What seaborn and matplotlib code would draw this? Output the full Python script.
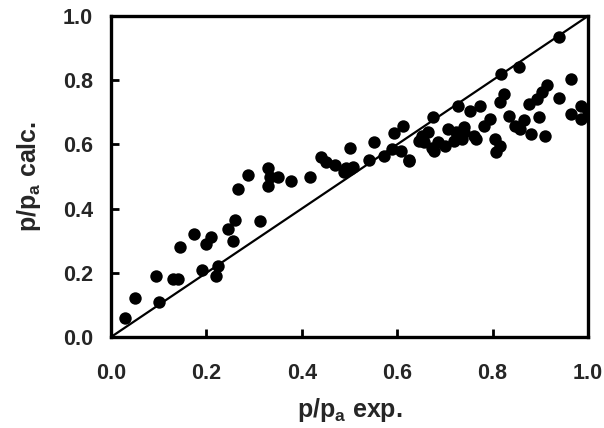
import matplotlib
matplotlib.use("Agg")
import matplotlib.pyplot as plt
import numpy as np
import pandas as pd
import seaborn as sns

# Experimental vs. calculated relative pressure
p_exp = [
    0.03, 0.05, 0.10, 0.095, 0.13, 0.14, 0.145, 0.175, 0.19, 0.20,
    0.21, 0.22, 0.225, 0.245, 0.26, 0.255, 0.267, 0.288, 0.312, 0.33,
    0.333, 0.33, 0.35, 0.378, 0.417, 0.44, 0.45, 0.47, 0.488, 0.50,
    0.50, 0.54, 0.552, 0.573, 0.59, 0.594, 0.608, 0.613, 0.625, 0.645,
    0.651, 0.665, 0.672, 0.678, 0.676, 0.686, 0.70, 0.707, 0.724, 0.728,
    0.735, 0.741, 0.752, 0.76, 0.766, 0.773, 0.783, 0.795, 0.804, 0.808,
    0.815, 0.815, 0.817, 0.823, 0.834, 0.846, 0.855, 0.857, 0.865, 0.876,
    0.88, 0.893, 0.897, 0.903, 0.909, 0.914, 0.939, 0.939, 0.964, 0.964,
    0.985, 0.985, 1.0, 0.657, 0.625, 0.741, 0.493, 0.507, 0.72,
]
p_calc = [
    0.06, 0.12, 0.11, 0.19, 0.18, 0.18, 0.28, 0.32, 0.21, 0.29,
    0.31, 0.19, 0.22, 0.335, 0.365, 0.30, 0.46, 0.505, 0.36, 0.525,
    0.50, 0.47, 0.50, 0.485, 0.50, 0.56, 0.545, 0.535, 0.515, 0.522,
    0.588, 0.55, 0.606, 0.565, 0.585, 0.635, 0.578, 0.656, 0.55, 0.61,
    0.625, 0.64, 0.59, 0.578, 0.684, 0.606, 0.594, 0.647, 0.64, 0.72,
    0.616, 0.653, 0.703, 0.625, 0.616, 0.72, 0.656, 0.678, 0.616, 0.575,
    0.595, 0.731, 0.818, 0.756, 0.69, 0.658, 0.84, 0.647, 0.675, 0.725,
    0.632, 0.741, 0.686, 0.762, 0.625, 0.786, 0.934, 0.745, 0.803, 0.694,
    0.72, 0.678, 0.703, 0.606, 0.547, 0.6375, 0.528, 0.531, 0.61,
]

ticks = [0.0, 0.2, 0.4, 0.6, 0.8, 1.0]
tick_labels = ["0.0", "0.2", "0.4", "0.6", "0.8", "1.0"]

sns.set_style("ticks")
plt.rcParams["font.family"] = ["Liberation Sans", "DejaVu Sans"]
plt.rcParams["font.weight"] = "bold"
plt.rcParams["mathtext.fontset"] = "custom"
plt.rcParams["mathtext.rm"] = "Liberation Sans:bold"
plt.rcParams["mathtext.bf"] = "Liberation Sans:bold"
plt.rcParams["mathtext.it"] = "Liberation Sans:bold"

df = pd.DataFrame({"exp": p_exp, "calc": p_calc})

fig = plt.figure(figsize=(6.04, 4.28), dpi=100)
ax = fig.add_axes([0.1838, 0.2126, 0.7897, 0.7500])

sns.scatterplot(data=df, x="exp", y="calc", ax=ax, color="black",
                s=80, edgecolor="black", linewidth=0, zorder=3)
ax.axline((0, 0), slope=1, color="black", lw=1.6, zorder=2)

ax.set_xlim(0, 1)
ax.set_ylim(0, 1)
ax.set_xticks(ticks)
ax.set_yticks(ticks)
ax.set_xticklabels(tick_labels, fontsize=15.5, fontweight="bold")
ax.set_yticklabels(tick_labels, fontsize=15.5, fontweight="bold")
ax.tick_params(axis="both", direction="in", length=6, width=2, color="black")
ax.tick_params(axis="x", pad=19)
ax.tick_params(axis="y", pad=13)

for side in ["left", "right", "top", "bottom"]:
    ax.spines[side].set_visible(True)
    ax.spines[side].set_linewidth(2.4)
    ax.spines[side].set_color("black")

ax.set_xlabel(r"p/p$_\mathrm{a}$ exp.", fontsize=18, fontweight="bold", labelpad=8)
ax.set_ylabel(r"p/p$_\mathrm{a}$ calc.", fontsize=18, fontweight="bold", labelpad=14)

fig.savefig("out.png", dpi=100)
